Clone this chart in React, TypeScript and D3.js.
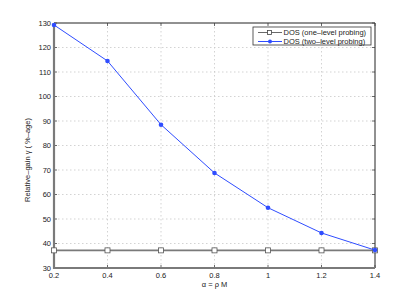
import React from "react";
import * as d3 from "d3";

const alphas = [0.2, 0.4, 0.6, 0.8, 1.0, 1.2, 1.4];
const oneLevel = [37.2, 37.2, 37.2, 37.2, 37.2, 37.2, 37.2];
const twoLevel = [129.2, 114.5, 88.5, 68.8, 54.6, 44.3, 37.3];
const xTicks = [0.2, 0.4, 0.6, 0.8, 1, 1.2, 1.4];
const yTicks = [30, 40, 50, 60, 70, 80, 90, 100, 110, 120, 130];
const seriesNames = ["DOS (one\u2013level probing)", "DOS (two\u2013level probing)"];

export default function App() {
  const W = 415, H = 303;
  const L = 54, R = 375, T = 23, B = 268;
  const x = d3.scaleLinear().domain([0.2, 1.4]).range([L, R]);
  const y = d3.scaleLinear().domain([30, 130]).range([B, T]);
  const line = d3.line<number>().x((_, i) => x(alphas[i])).y((v) => y(v));
  const font = "Liberation Sans, Arial, sans-serif";
  const blue = "#2f4dff";
  const gray = "#7a7a7a";
  return (
    <div style={{ position: "absolute", left: 0, top: 0 }}>
      <svg width={W} height={H} style={{ display: "block" }}>
        <rect width={W} height={H} fill="#fff" />
        {/* grid */}
        {xTicks.slice(1, -1).map((t) => (
          <line key={"gx" + t} x1={x(t)} x2={x(t)} y1={T} y2={B} stroke="#c8c8c8" strokeWidth={0.8} strokeDasharray="1.5,2.5" />
        ))}
        {yTicks.slice(1, -1).map((t) => (
          <line key={"gy" + t} x1={L} x2={R} y1={y(t)} y2={y(t)} stroke="#c8c8c8" strokeWidth={0.8} strokeDasharray="1.5,2.5" />
        ))}
        {/* frame */}
        <line x1={L} x2={R} y1={T} y2={T} stroke="#222" strokeWidth={1} />
        <line x1={R} x2={R} y1={T} y2={B} stroke="#222" strokeWidth={1} />
        {/* ticks */}
        {xTicks.map((t) => (
          <g key={"tx" + t}>
            <line x1={x(t)} x2={x(t)} y1={B} y2={B - 3} stroke="#444" strokeWidth={0.8} />
            <line x1={x(t)} x2={x(t)} y1={T} y2={T + 3} stroke="#444" strokeWidth={0.8} />
            <text x={x(t)} y={B + 9.5} fontSize={7.5} fontFamily={font} textAnchor="middle" fill="#222">{String(t)}</text>
          </g>
        ))}
        {yTicks.map((t) => (
          <g key={"ty" + t}>
            <line x1={L} x2={L + 3} y1={y(t)} y2={y(t)} stroke="#444" strokeWidth={0.8} />
            <line x1={R} x2={R - 3} y1={y(t)} y2={y(t)} stroke="#444" strokeWidth={0.8} />
            <text x={L - 3} y={y(t) + 2.6} fontSize={7.5} fontFamily={font} textAnchor="end" fill="#222">{t}</text>
          </g>
        ))}
        <line x1={L} x2={L} y1={T} y2={B + 1} stroke={gray} strokeWidth={2.2} />
        <line x1={L - 1} x2={R} y1={B} y2={B} stroke={gray} strokeWidth={2.2} />
        {/* series */}
        <path d={line(oneLevel) || ""} fill="none" stroke={gray} strokeWidth={1.6} />
        {oneLevel.map((v, i) => (
          <rect key={"s" + i} x={x(alphas[i]) - 2.5} y={y(v) - 2.5} width={5} height={5} fill="#fff" stroke="#555" strokeWidth={0.8} />
        ))}
        <path d={line(twoLevel) || ""} fill="none" stroke={blue} strokeWidth={1} />
        {twoLevel.map((v, i) => (
          <circle key={"b" + i} cx={x(alphas[i])} cy={y(v)} r={2.3} fill={blue} />
        ))}
        {/* legend */}
        <rect x={253} y={27} width={118} height={18} fill="#fff" stroke="#333" strokeWidth={0.8} />
        <line x1={258} x2={282} y1={32.5} y2={32.5} stroke="#444" strokeWidth={0.8} />
        <rect x={267.5} y={30.5} width={4} height={4} fill="#fff" stroke="#444" strokeWidth={0.8} />
        <text x={283.5} y={35.2} fontSize={7.5} fontFamily={font} fill="#222">{seriesNames[0]}</text>
        <line x1={258} x2={282} y1={41.5} y2={41.5} stroke={blue} strokeWidth={1} />
        <circle cx={270} cy={41.5} r={2} fill={blue} />
        <text x={283.5} y={44.2} fontSize={7.5} fontFamily={font} fill="#222">{seriesNames[1]}</text>
        {/* axis titles */}
        <text x={(L + R) / 2} y={287} fontSize={7.5} fontFamily={font} textAnchor="middle" fill="#222">{"\u03b1 = \u03c1 M"}</text>
        <text transform={`translate(30,160) rotate(-90)`} fontSize={7.5} fontFamily={font} textAnchor="middle" fill="#222">{"Relative\u2013gain \u03b3  ( %\u2013age)"}</text>
      </svg>
    </div>
  );
}
